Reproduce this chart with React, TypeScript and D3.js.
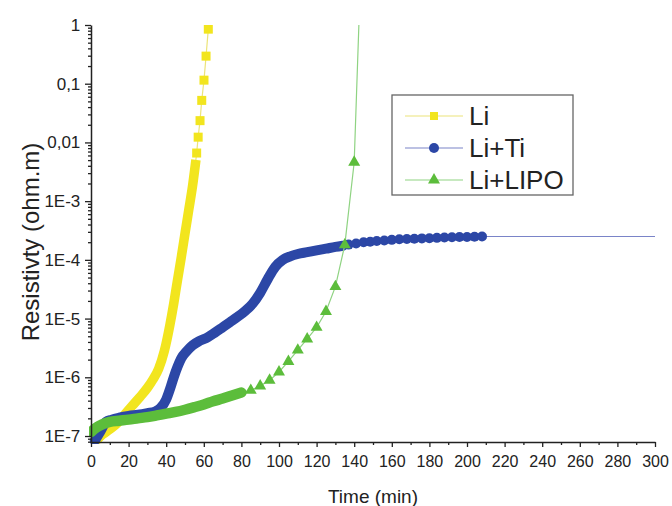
import React, { useRef, useEffect } from 'react';
import * as d3 from 'd3';

// Li : dense part (drawn as a thick band) and the separate square markers
const liBandTime = [3, 6, 10, 14, 18, 22, 26, 30, 33, 36, 39, 42, 44, 46, 48, 50, 52, 54, 55.5];
const liBandRes = [8.5e-8, 1.05e-7, 1.3e-7, 1.65e-7, 2.35e-7, 3.3e-7, 4.6e-7, 6.6e-7, 9.2e-7, 1.4e-6,
  2.8e-6, 7.9e-6, 1.8e-5, 4.5e-5, 1.1e-4, 2.8e-4, 7.1e-4, 1.8e-3, 4.2e-3];
const liMarkTime = [56.2, 57, 58, 58.9, 60.1, 61.2, 62.4];
const liMarkRes = [6.6e-3, 1.23e-2, 2.35e-2, 5.2e-2, 0.115, 0.295, 0.85];

// Li+Ti
const tiBandTime = [2, 5, 8, 11, 15, 20, 25, 30, 34, 37, 40, 42, 44, 46, 48, 51, 54, 58, 62, 66, 70, 74,
  78, 82, 86, 90, 94, 98, 102, 106, 110, 115, 120, 125, 130, 134];
const tiBandRes = [8.3e-8, 1.2e-7, 1.75e-7, 1.9e-7, 2.05e-7, 2.2e-7, 2.3e-7, 2.45e-7, 2.6e-7, 3.0e-7,
  4.2e-7, 6.3e-7, 1.0e-6, 1.5e-6, 2.1e-6, 2.8e-6, 3.5e-6, 4.2e-6, 4.8e-6, 5.8e-6, 7.1e-6, 8.7e-6,
  1.07e-5, 1.35e-5, 1.8e-5, 2.75e-5, 4.7e-5, 7.6e-5, 1.0e-4, 1.15e-4, 1.26e-4, 1.35e-4, 1.45e-4,
  1.55e-4, 1.66e-4, 1.74e-4];
const tiMarkTime = [137, 141, 145, 148.5, 152, 156, 160, 164, 168, 172, 176, 180, 184, 188, 192, 196, 200, 204, 208];
const tiMarkRes = [1.82e-4, 1.9e-4, 2.0e-4, 2.04e-4, 2.09e-4, 2.14e-4, 2.19e-4, 2.24e-4, 2.26e-4, 2.29e-4,
  2.32e-4, 2.34e-4, 2.37e-4, 2.4e-4, 2.43e-4, 2.45e-4, 2.45e-4, 2.48e-4, 2.5e-4];
const tiTailTime = [300];
const tiTailRes = [2.5e-4];

// Li+LIPO
const lipoBandTime = [0, 3, 6, 10, 15, 20, 25, 30, 35, 40, 45, 50, 55, 60, 65, 70, 75, 80];
const lipoBandRes = [1.17e-7, 1.4e-7, 1.58e-7, 1.74e-7, 1.82e-7, 1.9e-7, 2.0e-7, 2.1e-7, 2.24e-7, 2.4e-7,
  2.57e-7, 2.8e-7, 3.1e-7, 3.45e-7, 3.9e-7, 4.35e-7, 4.9e-7, 5.5e-7];
const lipoMarkTime = [85, 90, 95, 100, 105, 110, 115, 120, 125, 130, 135, 140, 145];
const lipoMarkRes = [6.0e-7, 7.1e-7, 8.9e-7, 1.23e-6, 1.86e-6, 2.9e-6, 4.5e-6, 7.1e-6, 1.32e-5, 3.5e-5,
  1.8e-4, 4.6e-3, 230];

const seriesNames = ['Li', 'Li+Ti', 'Li+LIPO'];
const yTickValues = [1e-7, 1e-6, 1e-5, 1e-4, 1e-3, 1e-2, 1e-1, 1];
const yTickLabels = ['1E-7', '1E-6', '1E-5', '1E-4', '1E-3', '0,01', '0,1', '1'];
const xTickValues = [0, 20, 40, 60, 80, 100, 120, 140, 160, 180, 200, 220, 240, 260, 280, 300];

const zip = (t: number[], v: number[]) => t.map((d, i) => ({ t: d, v: v[i] }));

export default function App() {
  const svgRef = useRef<SVGSVGElement>(null);

  useEffect(() => {
    const W = 672;
    const H = 506;
    const left = 91, right = 655, top = 25, bottom = 442;
    const font = '"Liberation Sans", Arial, sans-serif';

    const svg = d3.select(svgRef.current)
      .attr('width', W)
      .attr('height', H);
    svg.selectAll('*').remove();
    const g = svg.append('g');

    // scales
    const x = d3.scaleLinear().domain([0, 300]).range([left, right]);
    const y = d3.scaleLog().domain([Math.pow(10, -7.102), 1]).range([bottom, top]);

    g.append('clipPath').attr('id', 'plot-clip')
      .append('rect')
      .attr('x', left - 2).attr('y', top).attr('width', right - left + 6).attr('height', bottom - top + 2);

    const plot = g.append('g').attr('clip-path', 'url(#plot-clip)');

    const line = d3.line<{ t: number; v: number }>()
      .x(d => x(d.t))
      .y(d => y(d.v))
      .curve(d3.curveMonotoneX);

    const colors = { li: '#f2e51e', ti: '#2c47a6', lipo: '#5cbd3b' };
    const thin = { li: '#ece47a', ti: '#7a84c8', lipo: '#8fd382' };

    // thin connecting lines
    const liAll = zip(liBandTime, liBandRes).concat(zip(liMarkTime, liMarkRes));
    const tiAll = zip(tiBandTime, tiBandRes).concat(zip(tiMarkTime, tiMarkRes), zip(tiTailTime, tiTailRes));
    const lipoAll = zip(lipoBandTime, lipoBandRes).concat(zip(lipoMarkTime, lipoMarkRes));

    const thinLine = d3.line<{ t: number; v: number }>().x(d => x(d.t)).y(d => y(d.v));
    plot.append('path').datum(tiAll).attr('fill', 'none').attr('stroke', thin.ti).attr('stroke-width', 1.2).attr('d', thinLine);
    plot.append('path').datum(liAll).attr('fill', 'none').attr('stroke', thin.li).attr('stroke-width', 1.2).attr('d', thinLine);

    // dense bands (overlapping markers)
    plot.append('path').datum(zip(liBandTime, liBandRes))
      .attr('fill', 'none').attr('stroke', colors.li).attr('stroke-width', 9.5)
      .attr('stroke-linecap', 'square').attr('d', line);
    plot.append('path').datum(zip(tiBandTime, tiBandRes))
      .attr('fill', 'none').attr('stroke', colors.ti).attr('stroke-width', 10)
      .attr('stroke-linecap', 'round').attr('d', line);

    // Li squares
    plot.selectAll('.sq').data(zip(liMarkTime, liMarkRes)).enter().append('rect')
      .attr('x', d => x(d.t) - 4.5).attr('y', d => y(d.v) - 4.5)
      .attr('width', 9).attr('height', 9).attr('fill', colors.li);

    // Li+Ti circles
    plot.selectAll('.dot').data(zip(tiMarkTime, tiMarkRes)).enter().append('circle')
      .attr('cx', d => x(d.t)).attr('cy', d => y(d.v)).attr('r', 5).attr('fill', colors.ti);

    // Li+LIPO on top
    plot.append('path').datum(lipoAll).attr('fill', 'none').attr('stroke', thin.lipo).attr('stroke-width', 1.2).attr('d', thinLine);
    plot.append('path').datum(zip(lipoBandTime, lipoBandRes))
      .attr('fill', 'none').attr('stroke', colors.lipo).attr('stroke-width', 10.5)
      .attr('stroke-linecap', 'round').attr('d', line);
    const tri = d3.symbol().type(d3.symbolTriangle).size(62);
    plot.selectAll('.tri').data(zip(lipoMarkTime, lipoMarkRes)).enter().append('path')
      .attr('transform', d => `translate(${x(d.t)},${y(d.v)})`)
      .attr('d', tri).attr('fill', colors.lipo);

    // x-axis
    const axisColor = '#222';
    const xAxis = g.append('g')
      .attr('transform', `translate(0,${bottom})`)
      .call(d3.axisBottom(x).tickValues(xTickValues).tickSize(5).tickSizeOuter(0).tickFormat(d3.format('d')));
    g.append('g')
      .attr('transform', `translate(0,${bottom})`)
      .call(d3.axisBottom(x).tickValues(d3.range(10, 300, 20)).tickSize(3).tickFormat(() => ''))
      .call(a => a.select('.domain').remove());
    xAxis.selectAll('text').attr('dy', '1.05em').style('font-size', '16px');

    // y-axis
    const yAxis = g.append('g')
      .attr('transform', `translate(${left},0)`)
      .call(d3.axisLeft(y).tickValues(yTickValues).tickSize(6).tickSizeOuter(0)
        .tickFormat((d, i) => yTickLabels[i]));
    const minor: number[] = [];
    yTickValues.forEach(p => { for (let k = 2; k <= 9; k++) if (p * k < 1 && p * k > 7.9e-8) minor.push(p * k); });
    minor.push(8e-8, 9e-8);
    g.append('g')
      .attr('transform', `translate(${left},0)`)
      .call(d3.axisLeft(y).tickValues(minor).tickSize(3).tickFormat(() => ''))
      .call(a => a.select('.domain').remove());
    yAxis.selectAll('text').attr('dx', '-0.1em').style('font-size', '17px');

    g.selectAll('.domain').attr('stroke', axisColor).attr('stroke-width', 1.5);
    g.selectAll('.tick line').attr('stroke', axisColor).attr('stroke-width', 1.3);
    g.selectAll('.tick text').style('font-family', font).attr('fill', '#222');

    // axis titles
    g.append('text')
      .attr('x', (left + right) / 2).attr('y', 503)
      .attr('text-anchor', 'middle')
      .style('font-family', font).style('font-size', '19px').attr('fill', '#222')
      .text('Time (min)');
    g.append('text')
      .attr('transform', `translate(39,${242}) rotate(-90)`)
      .attr('text-anchor', 'middle')
      .style('font-family', font).style('font-size', '24px').attr('fill', '#222')
      .text('Resistivty (ohm.m)');

    // legend
    const lg = g.append('g');
    lg.append('rect').attr('x', 392).attr('y', 95).attr('width', 181).attr('height', 100)
      .attr('fill', 'white').attr('stroke', '#666').attr('stroke-width', 1.3);
    const legendRows = [
      { c: colors.li, t: thin.li, shape: 'sq' },
      { c: colors.ti, t: thin.ti, shape: 'dot' },
      { c: colors.lipo, t: thin.lipo, shape: 'tri' },
    ];
    legendRows.forEach((r, i) => {
      const cy = 116 + i * 32;
      lg.append('line').attr('x1', 405).attr('x2', 463).attr('y1', cy).attr('y2', cy)
        .attr('stroke', r.t).attr('stroke-width', 1.2);
      if (r.shape === 'sq') lg.append('rect').attr('x', 430).attr('y', cy - 4).attr('width', 8).attr('height', 8).attr('fill', r.c);
      if (r.shape === 'dot') lg.append('circle').attr('cx', 434).attr('cy', cy).attr('r', 5).attr('fill', r.c);
      if (r.shape === 'tri') lg.append('path').attr('transform', `translate(434,${cy})`).attr('d', tri).attr('fill', r.c);
      lg.append('text').attr('x', 469).attr('y', cy + 9)
        .style('font-family', font).style('font-size', '26px').attr('fill', '#222')
        .text(seriesNames[i]);
    });
  }, []);

  return (
    <svg ref={svgRef} style={{ position: 'absolute', left: 0, top: 0, background: 'white' }}></svg>
  );
}
